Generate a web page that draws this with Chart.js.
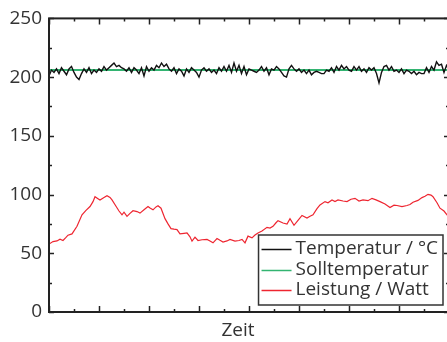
<!DOCTYPE html>
<html><head><meta charset="utf-8">
<script src="https://cdn.jsdelivr.net/npm/chart.js@4"></script>
<style>
html,body{margin:0;padding:0;background:#fff;overflow:hidden;width:447px;height:342px}
#wrap{width:460px;height:342px}
</style>
</head><body><div id="wrap"><canvas id="c" width="460" height="342"></canvas></div>
<script>
const yTicks = [0, 50, 100, 150, 200, 250];
const xTitle = 'Zeit';
const seriesNames = ['Temperatur / °C', 'Solltemperatur', 'Leistung / Watt'];
const seriesColors = ['#111111', '#33b471', '#ee2530'];

const tempStep = 2.5;
const tempValues = [
  201, 206, 204, 207, 203, 208, 205, 202, 207, 209,
  204, 200, 198, 203, 207, 204, 208, 203, 206, 204,
  207, 205, 209, 206, 208, 210, 212, 209, 210, 208,
  207, 205, 208, 204, 208, 206, 203, 208, 201, 209,
  205, 208, 206, 210, 208, 212, 209, 211, 207, 205,
  208, 203, 207, 205, 201, 207, 204, 208, 206, 204,
  200, 206, 208, 205, 207, 204, 206, 203, 208, 205,
  209, 205, 210, 204, 212, 205, 210, 203, 209, 202,
  207, 206, 205, 204, 206, 209, 205, 208, 202, 207,
  206, 209, 207, 204, 201, 200, 207, 210, 207, 205,
  207, 204, 206, 203, 206, 202, 204, 205, 204, 203,
  203, 206, 205, 208, 204, 209, 206, 210, 207, 209,
  206, 205, 209, 206, 209, 205, 207, 204, 208, 206,
  208, 203, 195, 204, 209, 210, 206, 209, 205, 206,
  204, 207, 203, 206, 205, 203, 205, 202, 204, 203,
  203, 208, 204, 209, 206, 213, 210, 211, 204, 210,
  206
];

const sollTime = [0, 400];
const sollValues = [206, 206];

const powerTime = [0,4,8,11,14,17,19,23,28,33,37,41,44,46,49,51,55,58,61,63,67,70,73,75,78,81,84,88,91,95,99,101,104,107,109,112,116,119,122,125,128,131,135,138,141,143,146,149,153,158,161,164,168,171,174,178,181,186,190,193,196,199,203,206,209,213,218,221,224,227,229,234,238,241,245,249,253,258,261,264,268,271,276,279,283,286,289,294,298,302,306,310,314,319,323,327,331,336,341,345,348,353,358,361,364,369,373,376,379,382,384,388,391,395,398,400];
const powerValues = [57.8,60.0,60.5,62.0,60.9,63.5,65.4,66.5,73,82.8,86.5,89.8,94,98.2,96.5,95.4,97.5,99,97.5,95.4,90,86,82.8,85,81.4,84,86.2,85.5,84.2,87,89.8,88.5,87,89.5,90.4,88.4,79.5,75,71,70.5,70.2,66.5,67,67.3,64,60.3,63.7,60.9,61.5,61.8,60.5,58.9,62.6,61,59.5,60.5,61.8,60.3,60.9,61.8,58.9,64.6,63.1,65.5,67.3,69,72.1,71.5,73,76,77.8,75.8,74.9,79.5,73.8,78,82.2,80,81.5,82.8,88,91.2,94,93,95.4,94,95.4,94.5,94,96,96.8,94.5,95.4,94.8,96.8,95.5,94,92,89,91,90.7,89.8,90.7,91.5,93.4,95,97.4,98.5,100.2,99.5,98.2,93,88.4,86,82.8,80];

const FONT = '"Open Sans", "DejaVu Sans", sans-serif';
const TEXT = '#333333';

const framePlugin = {
  id: 'frame',
  afterDatasetsDraw(chart) {
    const {ctx, chartArea: a, scales: {x, y}} = chart;
    ctx.save();
    ctx.strokeStyle = '#222';
    ctx.lineWidth = 1.5;
    ctx.beginPath();
    for (let v = 0; v <= 400; v += 25) {
      const px = Math.round(x.getPixelForValue(v)) + 0.5;
      const L = v % 50 === 0 ? 6 : 3;
      ctx.moveTo(px, a.bottom); ctx.lineTo(px, a.bottom - L);
      ctx.moveTo(px, a.top); ctx.lineTo(px, a.top + L);
    }
    for (let v = 0; v <= 250; v += 25) {
      const py = Math.round(y.getPixelForValue(v)) + 0.5;
      const L = v % 50 === 0 ? 5 : 3;
      ctx.moveTo(a.left, py); ctx.lineTo(a.left + L, py);
      ctx.moveTo(a.right, py); ctx.lineTo(a.right - L, py);
    }
    ctx.stroke();
    ctx.lineWidth = 2;
    ctx.strokeRect(a.left, a.top, a.right - a.left, a.bottom - a.top);

    // legend
    ctx.font = '19px ' + FONT;
    const names = chart.data.datasets.map(d => d.label);
    const tw = Math.max(...names.map(n => ctx.measureText(n).width));
    const boxR = a.right - 6, boxB = a.bottom - 7;
    const boxW = 3 + 30 + 4 + tw + 5, boxH = 70;
    const boxL = boxR - boxW, boxT = boxB - boxH;
    ctx.fillStyle = '#fff';
    ctx.fillRect(boxL, boxT, boxW, boxH);
    ctx.strokeStyle = '#333';
    ctx.lineWidth = 1.5;
    ctx.strokeRect(boxL, boxT, boxW, boxH);
    ctx.textBaseline = 'middle';
    ctx.textAlign = 'left';
    chart.data.datasets.forEach((d, i) => {
      const cy = boxT + 14 + i * 20.5;
      ctx.strokeStyle = d.borderColor;
      ctx.lineWidth = 1.5;
      ctx.beginPath();
      ctx.moveTo(boxL + 3, Math.round(cy) + 0.5);
      ctx.lineTo(boxL + 33, Math.round(cy) + 0.5);
      ctx.stroke();
      ctx.fillStyle = TEXT;
      ctx.fillText(d.label, boxL + 37, cy);
    });

    // axis title
    ctx.textAlign = 'center';
    ctx.fillStyle = TEXT;
    ctx.fillText(xTitle, 238, 331);
    ctx.restore();
  }
};

new Chart(document.getElementById('c'), {
  type: 'line',
  data: {
    datasets: [
      {label: seriesNames[0], data: tempValues.map((v, i) => ({x: i * tempStep, y: v})), borderColor: seriesColors[0], borderWidth: 1.4, pointRadius: 0, tension: 0},
      {label: seriesNames[1], data: sollTime.map((t, i) => ({x: t, y: sollValues[i]})), borderColor: seriesColors[1], borderWidth: 2, pointRadius: 0},
      {label: seriesNames[2], data: powerTime.map((t, i) => ({x: t, y: powerValues[i]})), borderColor: seriesColors[2], borderWidth: 1.2, pointRadius: 0, tension: 0}
    ]
  },
  options: {
    responsive: false,
    animation: false,
    devicePixelRatio: 1,
    layout: {padding: {top: 15, right: 11, left: 0, bottom: 0}},
    plugins: {legend: {display: false}, tooltip: {enabled: false}},
    scales: {
      x: {
        type: 'linear', min: 0, max: 400,
        grid: {display: false, drawTicks: false},
        border: {display: false},
        ticks: {display: false},
        afterFit(s) { s.height = 30; }
      },
      y: {
        min: 0, max: 250,
        afterBuildTicks(s) { s.ticks = yTicks.map(v => ({value: v})); },
        ticks: {padding: 7, color: TEXT, font: {family: FONT, size: 19}},
        grid: {display: false, drawTicks: false},
        border: {display: false},
        afterFit(s) { s.width = 49; }
      }
    }
  },
  plugins: [framePlugin]
});
</script>
</body></html>
